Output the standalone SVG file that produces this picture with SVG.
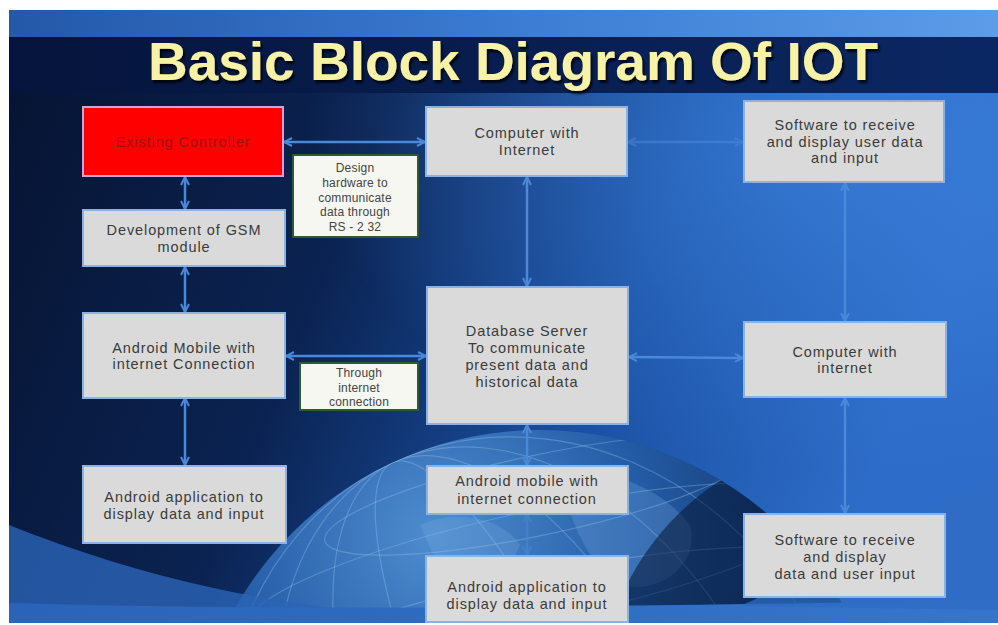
<svg xmlns="http://www.w3.org/2000/svg" width="998" height="625" viewBox="0 0 998 625">
<defs>
<style>
.box rect{fill:#dadada;stroke:#8cb2e4;stroke-width:2}
.note rect{fill:#f7f7f2;stroke:#2f5a2f;stroke-width:2}
.lbl{font-family:"Liberation Sans",Arial,sans-serif;font-size:14.5px;fill:#3a3a3a;text-anchor:middle;letter-spacing:0.9px}
.sm{font-size:12px;letter-spacing:0.2px;fill:#444}
.conn line{stroke:#4a88d8;stroke-width:2.5;marker-start:url(#ah);marker-end:url(#ah)}
.conn .faint{opacity:0.55}
.grid{fill:none;stroke:#9cc2ee;stroke-width:1.2;opacity:0.35}
</style>
<marker id="ah" viewBox="0 0 10 10" refX="9" refY="5" markerWidth="4" markerHeight="4" orient="auto-start-reverse" markerUnits="strokeWidth">
<path d="M1,1 L9,5 L1,9" fill="none" stroke="#4a88d8" stroke-width="2"/>
</marker>
<filter id="shadow" x="-5%" y="-20%" width="110%" height="150%">
<feDropShadow dx="2" dy="3" stdDeviation="1" flood-color="#000000" flood-opacity="0.8"/>
</filter>
<clipPath id="frame"><rect x="9" y="10" width="989" height="613"/></clipPath>
<clipPath id="globeclip"><circle cx="540" cy="780" r="350"/></clipPath>
<linearGradient id="bg" x1="0" y1="0" x2="1" y2="0.25">
<stop offset="0" stop-color="#061330"/>
<stop offset="0.4" stop-color="#0b2352"/>
<stop offset="0.7" stop-color="#1a50a2"/>
<stop offset="1" stop-color="#2d6cc8"/>
</linearGradient>
<radialGradient id="glow" cx="0.85" cy="0.2" r="0.55">
<stop offset="0" stop-color="#3f86e2" stop-opacity="0.7"/>
<stop offset="1" stop-color="#3f86e2" stop-opacity="0"/>
</radialGradient>
<linearGradient id="top" x1="0" y1="0" x2="1" y2="0">
<stop offset="0" stop-color="#2458a8"/>
<stop offset="0.5" stop-color="#3b7bd2"/>
<stop offset="1" stop-color="#5c9ce8"/>
</linearGradient>
<linearGradient id="band" x1="0" y1="0" x2="1" y2="0">
<stop offset="0" stop-color="#05143c"/>
<stop offset="1" stop-color="#0b2763"/>
</linearGradient>
<radialGradient id="globe" cx="0.35" cy="0.15" r="0.85">
<stop offset="0" stop-color="#4f8ccf"/>
<stop offset="0.35" stop-color="#245ca6"/>
<stop offset="0.7" stop-color="#0e2c60"/>
<stop offset="1" stop-color="#061634"/>
</radialGradient>
<linearGradient id="swoosh" x1="0" y1="0" x2="1" y2="0">
<stop offset="0" stop-color="#2a64b8"/>
<stop offset="0.5" stop-color="#2f6cc0"/>
<stop offset="1" stop-color="#3576cc"/>
</linearGradient>
</defs>

<rect x="0" y="0" width="998" height="625" fill="#ffffff"/>
<g id="background" clip-path="url(#frame)">
<rect x="9" y="10" width="989" height="613" fill="url(#bg)"/>
<rect x="9" y="10" width="989" height="613" fill="url(#glow)"/>
<circle cx="540" cy="780" r="350" fill="url(#globe)"/>
<g clip-path="url(#globeclip)">
<ellipse class="grid" cx="540" cy="780" rx="80" ry="350" transform="rotate(-25 540 780)"/>
<ellipse class="grid" cx="540" cy="780" rx="160" ry="350" transform="rotate(-25 540 780)"/>
<ellipse class="grid" cx="540" cy="780" rx="240" ry="350" transform="rotate(-25 540 780)"/>
<ellipse class="grid" cx="540" cy="780" rx="310" ry="350" transform="rotate(-25 540 780)"/>
<ellipse class="grid" cx="540" cy="645" rx="340" ry="70" transform="rotate(-12 540 645)"/>
<ellipse class="grid" cx="540" cy="565" rx="300" ry="55" transform="rotate(-12 540 565)"/>
<ellipse class="grid" cx="540" cy="495" rx="220" ry="40" transform="rotate(-12 540 495)"/>
<path d="M560,475 C600,465 660,485 690,525 C700,565 660,595 620,585 C590,565 570,525 560,475Z" fill="#7fb0e2" opacity="0.25"/>
<path d="M420,525 C450,510 500,515 520,545 C510,575 470,585 440,570Z" fill="#8cbbe8" opacity="0.2"/>
<circle cx="860" cy="700" r="260" fill="#061634" opacity="0.55"/>
</g>
<rect x="9" y="10" width="989" height="28" fill="url(#top)"/>
<rect x="9" y="37" width="989" height="56" fill="url(#band)"/>
<path d="M9,525 C110,565 240,605 430,618 L430,623 L9,623 Z" fill="#2a64b6" opacity="0.8"/>
<path d="M9,603 C300,612 650,606 998,600 L998,623 L9,623 Z" fill="url(#swoosh)"/>
<path d="M740,606 C820,570 910,520 998,470 L998,610 Z" fill="#2f6cc4" opacity="0.75"/>
</g>

<g id="title">
<text x="148" y="80" textLength="730" lengthAdjust="spacingAndGlyphs" font-family="'Liberation Sans',Arial,sans-serif" font-weight="bold" font-size="53" fill="#f7f2a6" filter="url(#shadow)">Basic Block Diagram Of IOT</text>
</g>

<g class="conn" id="connectors">
<line x1="284" y1="142" x2="425" y2="142"/>
<line class="faint" x1="628" y1="142" x2="743" y2="142"/>
<line x1="185" y1="177" x2="185" y2="209"/>
<line x1="185" y1="267" x2="185" y2="312"/>
<line x1="185" y1="398" x2="185" y2="465"/>
<line x1="286" y1="356" x2="426" y2="356"/>
<line x1="527" y1="177" x2="527" y2="286"/>
<line x1="629" y1="357" x2="743" y2="358"/>
<line x1="845" y1="183" x2="845" y2="321"/>
<line x1="845" y1="398" x2="845" y2="513"/>
<line x1="527" y1="425" x2="527" y2="465"/>
<line class="faint" x1="527" y1="514" x2="527" y2="555"/>
</g>

<g id="existing-controller">
<rect x="83" y="107" width="200" height="69" fill="#ff0000" stroke="#c9a6e0" stroke-width="2"/>
<text class="lbl" x="183" y="147" style="fill:#9c1010">Existing Controller</text>
</g>

<g id="design-hardware" class="note">
<rect x="293" y="155" width="125" height="82"/>
<text class="lbl sm" x="355" y="172">Design</text>
<text class="lbl sm" x="355" y="187">hardware to</text>
<text class="lbl sm" x="355" y="202">communicate</text>
<text class="lbl sm" x="355" y="216">data through</text>
<text class="lbl sm" x="355" y="231">RS - 2 32</text>
</g>

<g id="gsm-module" class="box">
<rect x="83" y="210" width="202" height="56"/>
<text class="lbl" x="184" y="235">Development of GSM</text>
<text class="lbl" x="184" y="252">module</text>
</g>

<g id="computer-internet-top" class="box">
<rect x="426" y="107" width="201" height="69"/>
<text class="lbl" x="527" y="138">Computer with</text>
<text class="lbl" x="527" y="155">Internet</text>
</g>

<g id="software-top" class="box">
<rect x="744" y="101" width="200" height="81"/>
<text class="lbl" x="845" y="130">Software to receive</text>
<text class="lbl" x="845" y="147">and display user data</text>
<text class="lbl" x="845" y="163">and input</text>
</g>

<g id="android-mobile-left" class="box">
<rect x="83" y="313" width="202" height="85"/>
<text class="lbl" x="184" y="353">Android Mobile with</text>
<text class="lbl" x="184" y="369">internet Connection</text>
</g>

<g id="through-internet" class="note">
<rect x="300" y="363" width="118" height="47"/>
<text class="lbl sm" x="359" y="377">Through</text>
<text class="lbl sm" x="359" y="392">internet</text>
<text class="lbl sm" x="359" y="406">connection</text>
</g>

<g id="database-server" class="box">
<rect x="427" y="287" width="201" height="137"/>
<text class="lbl" x="527" y="336">Database Server</text>
<text class="lbl" x="527" y="353">To communicate</text>
<text class="lbl" x="527" y="370">present data and</text>
<text class="lbl" x="527" y="387">historical data</text>
</g>

<g id="computer-internet-right" class="box">
<rect x="744" y="322" width="202" height="75"/>
<text class="lbl" x="845" y="357">Computer with</text>
<text class="lbl" x="845" y="373">internet</text>
</g>

<g id="android-app-left" class="box">
<rect x="83" y="466" width="203" height="77"/>
<text class="lbl" x="184" y="502">Android application to</text>
<text class="lbl" x="184" y="519">display data and input</text>
</g>

<g id="android-mobile-center" class="box">
<rect x="427" y="466" width="201" height="48"/>
<text class="lbl" x="527" y="486">Android mobile with</text>
<text class="lbl" x="527" y="504">internet connection</text>
</g>

<g id="android-app-center" class="box">
<rect x="426" y="556" width="202" height="66"/>
<text class="lbl" x="527" y="592">Android application to</text>
<text class="lbl" x="527" y="609">display data and input</text>
</g>

<g id="software-bottom" class="box">
<rect x="744" y="514" width="201" height="83"/>
<text class="lbl" x="845" y="545">Software to receive</text>
<text class="lbl" x="845" y="562">and display</text>
<text class="lbl" x="845" y="579">data and user input</text>
</g>
</svg>
